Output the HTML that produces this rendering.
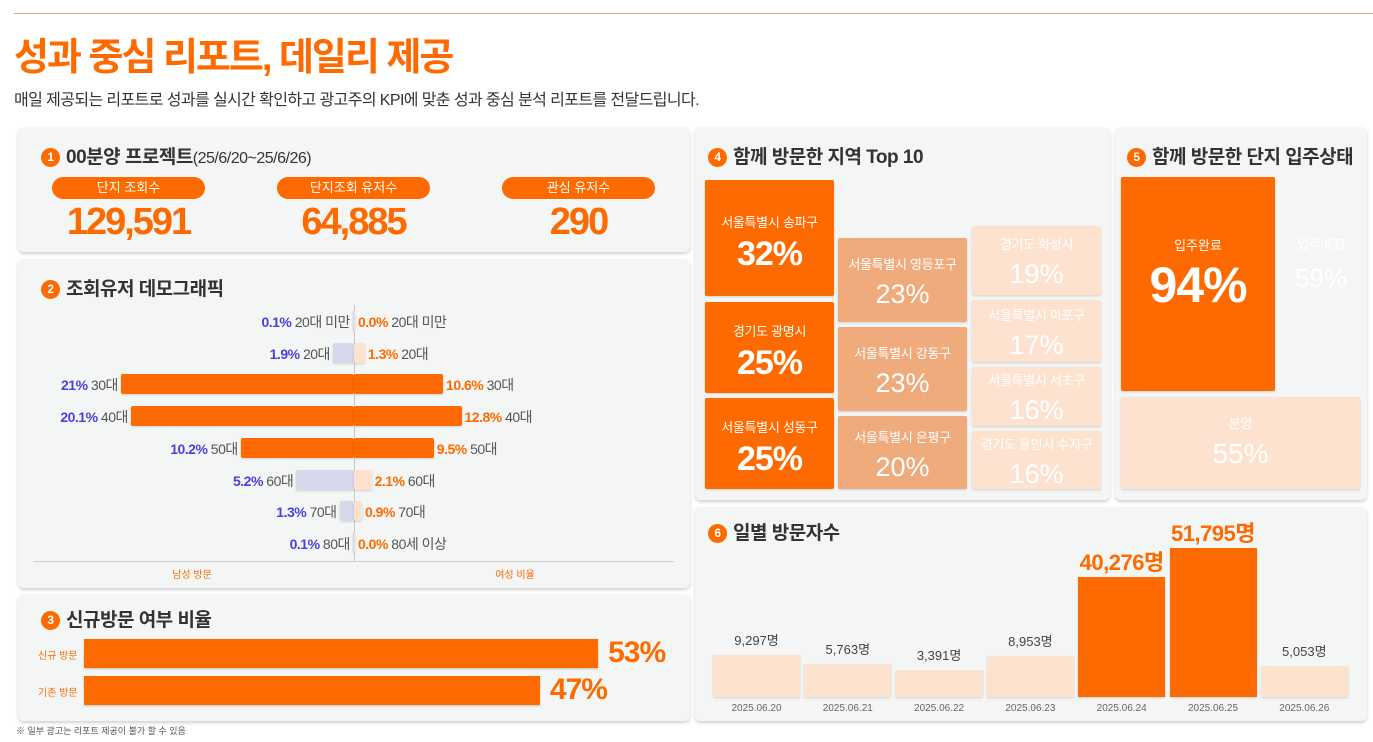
<!DOCTYPE html>
<html><head><meta charset="utf-8">
<style>
*{box-sizing:border-box;margin:0;padding:0}
body{width:1373px;height:742px;background:#fff;position:relative;overflow:hidden;font-family:"Liberation Sans","Noto Sans CJK KR",sans-serif;color:#333}
.a{position:absolute}
.layer{position:absolute;left:0;top:0;width:1373px;height:742px;pointer-events:none}
.panel{position:absolute;background:#f4f6f5;border-radius:6px;box-shadow:0 2px 3px rgba(0,0,0,.18)}
.ttl{position:absolute;font-size:19px;font-weight:bold;color:#333;white-space:nowrap;letter-spacing:-0.5px}
.num{display:inline-block;width:19px;height:19px;border-radius:50%;background:#ff6a00;color:#fff;font-size:12px;text-align:center;line-height:19px;margin-right:6px;vertical-align:2px}
.pill{position:absolute;height:22px;border-radius:11px;background:#ff6a00;color:#fff;font-size:13px;text-align:center;line-height:22px}
.big{position:absolute;font-size:38px;font-weight:bold;color:#ff6a00;text-align:center;letter-spacing:-2px}
.tm{position:absolute;color:#fff;text-align:center;border-radius:2px;box-shadow:0 1px 2px rgba(0,0,0,.15)}
</style></head><body>
<div class="a" style="left:14px;top:13px;width:1359px;height:1px;background:#f0a070"></div>
<div class="a" style="left:14px;top:26px;font-size:38px;font-weight:bold;color:#ff6a00;letter-spacing:-2px">성과 중심 리포트, 데일리 제공</div>
<div class="a" style="left:14px;top:86px;font-size:16px;color:#333;letter-spacing:-0.6px">매일 제공되는 리포트로 성과를 실시간 확인하고 광고주의 KPI에 맞춘 성과 중심 분석 리포트를 전달드립니다.</div>

<div class="panel" style="left:18px;top:127px;width:672px;height:125px">
 <div class="ttl" style="left:23px;top:15px"><span class="num">1</span>00분양 프로젝트<span style="font-weight:normal;font-size:16px">(25/6/20~25/6/26)</span></div>
 <div class="pill" style="left:34px;top:50px;width:153px">단지 조회수</div>
 <div class="pill" style="left:259px;top:50px;width:153px">단지조회 유저수</div>
 <div class="pill" style="left:484px;top:50px;width:153px">관심 유저수</div>
 <div class="big" style="left:34px;top:74px;width:153px">129,591</div>
 <div class="big" style="left:259px;top:74px;width:153px">64,885</div>
 <div class="big" style="left:484px;top:74px;width:153px">290</div>
</div>

<div class="panel" style="left:18px;top:259px;width:672px;height:329px">
 <div class="ttl" style="left:23px;top:15px"><span class="num">2</span>조회유저 데모그래픽</div>
</div>
<div id="pyr" class="layer"></div>

<div class="panel" style="left:18px;top:594px;width:672px;height:127px">
 <div class="ttl" style="left:23px;top:11px"><span class="num">3</span>신규방문 여부 비율</div>
</div>
<div id="nv" class="layer"></div>
<div class="a" style="left:16px;top:724px;font-size:9px;color:#555;white-space:nowrap">※ 일부 광고는 리포트 제공이 불가 할 수 있음</div>

<div class="panel" style="left:695px;top:127px;width:415px;height:373px">
 <div class="ttl" style="left:13px;top:15px"><span class="num">4</span>함께 방문한 지역 Top 10</div>
</div>
<div id="tm" class="layer"></div>

<div class="panel" style="left:1115px;top:127px;width:252px;height:373px">
 <div class="ttl" style="left:12px;top:15px"><span class="num">5</span>함께 방문한 단지 입주상태</div>
 <div class="tm" style="left:6px;top:50px;width:154px;height:214px;background:#ff6a00"><div style="margin-top:58px;font-size:13px">입주완료</div><div style="font-size:50px;font-weight:bold;margin-top:2px;letter-spacing:-1px">94%</div></div>
 <div class="a" style="left:170px;top:107px;width:72px;text-align:center;color:#fff;font-size:13px">입주예정<div style="font-size:26px;margin-top:10px">59%</div></div>
 <div class="tm" style="left:6px;top:270px;width:239px;height:92px;background:#fde2cf"><div style="margin-top:16px;font-size:13px">분양</div><div style="font-size:28px;margin-top:6px">55%</div></div>
</div>

<div class="panel" style="left:695px;top:507px;width:672px;height:214px">
 <div class="ttl" style="left:13px;top:11px"><span class="num">6</span>일별 방문자수</div>
</div>
<div id="daily" class="layer"></div>

<script>
const ageLeft=['20대 미만','20대','30대','40대','50대','60대','70대','80대'];
const ageRight=['20대 미만','20대','30대','40대','50대','60대','70대','80세 이상'];
const maleVals=[0.1,1.9,21,20.1,10.2,5.2,1.3,0.1];
const femaleVals=[0.0,1.3,10.6,12.8,9.5,2.1,0.9,0.0];
const nvCats=['신규 방문','기존 방문'];
const nvVals=[53,47];
const tmCol1Names=['서울특별시 송파구','경기도 광명시','서울특별시 성동구'];
const tmCol1Vals=[32,25,25];
const tmCol2Names=['서울특별시 영등포구','서울특별시 강동구','서울특별시 은평구'];
const tmCol2Vals=[23,23,20];
const tmCol3Names=['경기도 화성시','서울특별시 마포구','서울특별시 서초구','경기도 용인시 수지구'];
const tmCol3Vals=[19,17,16,16];
const dates=['2025.06.20','2025.06.21','2025.06.22','2025.06.23','2025.06.24','2025.06.25','2025.06.26'];
const visitors=[9297,5763,3391,8953,40276,51795,5053];

function mk(parent,tag,css,name,text){const e=document.createElement(tag);e.style.cssText='position:absolute;white-space:nowrap;'+css;


if(text!==undefined)e.innerHTML=text;parent.appendChild(e);return e;}

(function(){
 const p=document.getElementById('pyr');const cx=354;
 const xl=v=>v*11.1, xr=v=>v*8.4;
 const rowY=i=>321+i*31.7;
 mk(p,'div','left:'+cx+'px;top:305px;width:1px;height:256px;background:#c8c8c8','center-axis');
 mk(p,'div','left:33px;top:561px;width:641px;height:1px;background:#d0d0d0','baseline');
 mk(p,'div','left:160px;top:566px;width:64px;text-align:center;font-size:10px;color:#ff6a00','male-axis-label','남성 방문');
 mk(p,'div','left:483px;top:566px;width:64px;text-align:center;font-size:10px;color:#ff6a00','female-axis-label','여성 비율');
 maleVals.forEach((v,i)=>{
  const y=rowY(i),w=Math.max(xl(v),1),big=v>=9;
  mk(p,'div','left:'+(cx-w)+'px;top:'+(y-10)+'px;width:'+w+'px;height:20px;background:'+(big?'#ff6a00':'#d8d8ec')+';border-radius:2px;box-shadow:0 1px 2px rgba(0,0,0,.15)','male-bar-'+i);
  mk(p,'div','left:'+(cx-w-3)+'px;transform:translateX(-100%);top:'+(y-9)+'px;font-size:14px;color:#555;letter-spacing:-0.5px','male-label-'+i,'<b style="color:#4a3fe0">'+v+'%</b> '+ageLeft[i]);
 });
 femaleVals.forEach((v,i)=>{
  const y=rowY(i),w=Math.max(xr(v),v>0?8:1),big=v>=9;
  mk(p,'div','left:'+cx+'px;top:'+(y-10)+'px;width:'+w+'px;height:20px;background:'+(big?'#ff6a00':'#fde2cf')+';border-radius:2px;box-shadow:0 1px 2px rgba(0,0,0,.15)','female-bar-'+i);
  mk(p,'div','left:'+(cx+w+3)+'px;top:'+(y-9)+'px;font-size:14px;color:#555;letter-spacing:-0.5px','female-label-'+i,'<b style="color:#ff6a00">'+v.toFixed(1)+'%</b> '+ageRight[i]);
 });
})();

(function(){
 const p=document.getElementById('nv');const x0=84,k=9.7;
 nvCats.forEach((c,i)=>{
  const y=639+i*37,w=nvVals[i]*k;
  mk(p,'div','left:38px;top:'+(y+8)+'px;font-size:10px;color:#ff6a00','nv-label-'+i,c);
  mk(p,'div','left:'+x0+'px;top:'+y+'px;width:'+w+'px;height:29px;background:#ff6a00;box-shadow:0 1px 2px rgba(0,0,0,.2)','nv-bar-'+i);
  mk(p,'div','left:'+(x0+w+10)+'px;top:'+(y-3)+'px;font-size:30px;font-weight:bold;color:#ff6a00;letter-spacing:-1px','nv-value-'+i,nvVals[i]+'%');
 });
})();

(function(){
 const p=document.getElementById('tm');const k=3.65,bottom=489,gap=5;
 const cols=[[tmCol1Names,tmCol1Vals,705,'#ff6a00',true],[tmCol2Names,tmCol2Vals,838,'#efab7c',false],[tmCol3Names,tmCol3Vals,972,'#fde2cf',false]];
 cols.forEach(([names,vals,x,col,bold],ci)=>{
  let y=bottom;
  for(let i=vals.length-1;i>=0;i--){
   const h=vals[i]*k;const top=y-h;
   mk(p,'div','left:'+x+'px;top:'+top+'px;width:129px;height:'+h+'px;background:'+col+';color:#fff;text-align:center;border-radius:2px;box-shadow:0 1px 2px rgba(0,0,0,.15);padding-top:'+(h/2-26)+'px','region-'+ci+'-'+i,
    '<div style="font-size:13px;letter-spacing:-0.3px">'+names[i]+'</div><div style="font-size:'+(bold?34:27)+'px;'+(bold?'font-weight:bold;letter-spacing:-1px;':'')+'margin-top:'+(bold?4:6)+'px">'+vals[i]+'%</div>');
   y=top-gap;
  }
 });
})();

(function(){
 const p=document.getElementById('daily');const base=697,x0=713,step=91.3,bw=87;
 const h=v=>18+v*0.00253;
 visitors.forEach((v,i)=>{
  const x=x0+i*step,hh=h(v),big=v>20000;
  mk(p,'div','left:'+x+'px;top:'+(base-hh)+'px;width:'+bw+'px;height:'+hh+'px;background:'+(big?'#ff6a00':'#fde2cf')+';box-shadow:0 1px 2px rgba(0,0,0,.15)','daily-bar-'+i);
  const lbl=v.toLocaleString('en-US')+'명';
  if(big) mk(p,'div','left:'+(x-20)+'px;top:'+(base-hh-32)+'px;width:'+(bw+40)+'px;text-align:center;font-size:22px;font-weight:bold;color:#ff6a00;letter-spacing:-0.5px','daily-value-'+i,lbl);
  else mk(p,'div','left:'+x+'px;top:'+(base-hh-25)+'px;width:'+bw+'px;text-align:center;font-size:13px;color:#444','daily-value-'+i,lbl);
  mk(p,'div','left:'+x+'px;top:703px;width:'+bw+'px;text-align:center;font-size:10px;color:#666','daily-date-'+i,dates[i]);
 });
})();
</script>
</body></html>
